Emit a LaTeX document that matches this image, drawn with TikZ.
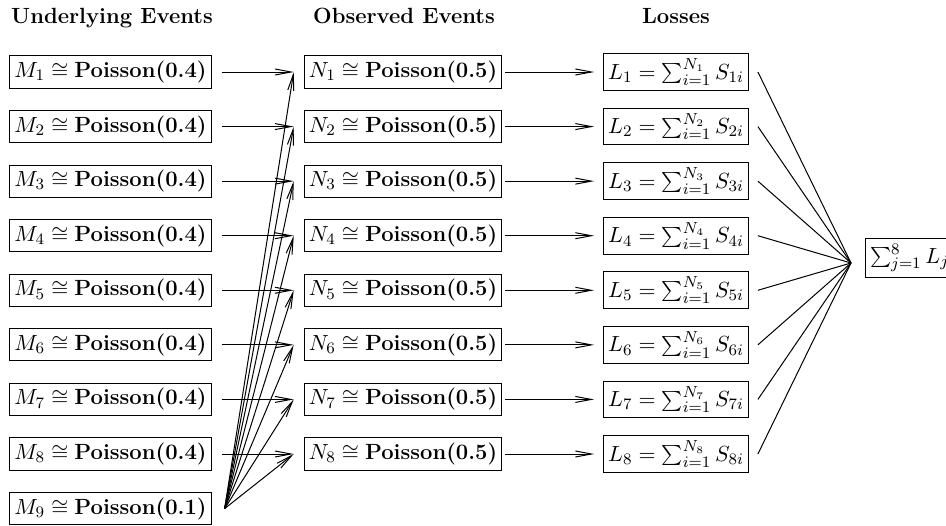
\documentclass[tikz,border=0pt]{standalone}
\usetikzlibrary{arrows.meta}
\tikzset{
  box/.style={draw, line width=0.5pt, inner xsep=2.3pt, inner ysep=2.5pt, font=\fontsize{11}{13}\selectfont},
  head/.style={font=\fontsize{11}{13}\selectfont\bfseries, anchor=base},
  conn/.style={line width=0.5pt},
  arr/.style={conn, -{Straight Barb[length=8pt,width=3pt]}},
}
\begin{document}
\begin{tikzpicture}[x=0.5pt,y=-0.5pt]
\useasboundingbox (0,0) rectangle (946,525);
\node[head] (h1) at (112,23) {Underlying Events};
\node[head] (h2) at (404,23) {Observed Events};
\node[head] (h3) at (676,23) {Losses};
\foreach \i in {1,...,8} {
  \pgfmathsetmacro\yy{72+(\i-1)*54.57}
  \node[box] (M\i) at (110.5,\yy) {$M_{\i} \cong \textbf{Poisson(0.4)}$};
  \node[box] (N\i) at (403,\yy) {$N_{\i} \cong \textbf{Poisson(0.5)}$};
  \node[box] (L\i) at (676,\yy) {$L_{\i} = \sum_{i=1}^{N_{\i}} S_{\i i}$};
  \coordinate (a\i) at ([xshift=-5pt]N\i.west);
  \coordinate (b\i) at ([xshift=-4.5pt]L\i.west);
  \coordinate (d\i) at ([xshift=4.5pt]L\i.east);
}
\node[box] (M9) at (110.5,508.6) {$M_{9} \cong \textbf{Poisson(0.1)}$};
\coordinate (m9o) at ([xshift=6.5pt]M9.east);
\coordinate (c) at (851,263);
\node[box, anchor=west] (S) at (865,258) {$\sum_{j=1}^{8} L_j$};
\foreach \i in {1,...,8} {
  \draw[arr, shorten <=5pt] (M\i.east) -- (a\i);
  \draw[arr] (m9o) -- (a\i);
  \draw[arr, shorten <=1.5pt] (N\i.east) -- (b\i);
  \draw[conn] (d\i) -- (c);
}
\end{tikzpicture}
\end{document}
